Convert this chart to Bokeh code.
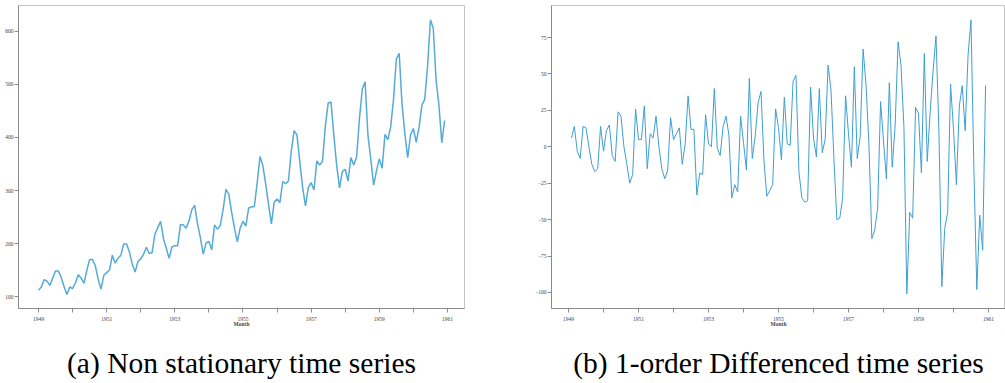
from bokeh.plotting import figure
from bokeh.models import FixedTicker, Range1d
from bokeh.core.properties import value
from bokeh.layouts import row, column
from bokeh.embed import file_html
from bokeh.resources import INLINE

# ---- data (AirPassengers, monthly 1949-1960) ----
years = list(range(1949, 1961))
passengers = [
    112, 118, 132, 129, 121, 135, 148, 148, 136, 119, 104, 118,
    115, 126, 141, 135, 125, 149, 170, 170, 158, 133, 114, 140,
    145, 150, 178, 163, 172, 178, 199, 199, 184, 162, 146, 166,
    171, 180, 193, 181, 183, 218, 230, 242, 209, 191, 172, 194,
    196, 196, 236, 235, 229, 243, 264, 272, 237, 211, 180, 201,
    204, 188, 235, 227, 234, 264, 302, 293, 259, 229, 203, 229,
    242, 233, 267, 269, 270, 315, 364, 347, 312, 274, 237, 278,
    284, 277, 317, 313, 318, 374, 413, 405, 355, 306, 271, 306,
    315, 301, 356, 348, 355, 422, 465, 467, 404, 347, 305, 336,
    340, 318, 362, 348, 363, 435, 491, 505, 404, 359, 310, 337,
    360, 342, 406, 396, 420, 472, 548, 559, 463, 407, 362, 405,
    417, 391, 419, 461, 472, 535, 622, 606, 508, 461, 390, 432,
]
# 1-order differenced series (Feb 1949 .. Dec 1960)
diff1 = [
    6, 14, -3, -8, 14, 13, 0, -12, -17, -15, 14,
    -3, 11, 15, -6, -10, 24, 21, 0, -12, -25, -19, 26,
    5, 5, 28, -15, 9, 6, 21, 0, -15, -22, -16, 20,
    5, 9, 13, -12, 2, 35, 12, 12, -33, -18, -19, 22,
    2, 0, 40, -1, -6, 14, 21, 8, -35, -26, -31, 21,
    3, -16, 47, -8, 7, 30, 38, -9, -34, -30, -26, 26,
    13, -9, 34, 2, 1, 45, 49, -17, -35, -38, -37, 41,
    6, -7, 40, -4, 5, 56, 39, -8, -50, -49, -35, 35,
    9, -14, 55, -8, 7, 67, 43, 2, -63, -57, -42, 31,
    4, -22, 44, -14, 15, 72, 56, 14, -101, -45, -49, 27,
    23, -18, 64, -10, 24, 52, 76, 11, -96, -56, -45, 43,
    12, -26, 28, 42, 11, 63, 87, -16, -98, -47, -71, 42,
]
x_major_years = [1949, 1951, 1953, 1955, 1957, 1959, 1961]
x_minor_years = [1950, 1952, 1954, 1956, 1958, 1960]
y_ticks_a = [100, 200, 300, 400, 500, 600]
y_ticks_b = [-100, -75, -50, -25, 0, 25, 50, 75]
captions = ["(a) Non stationary time series", "(b) 1-order Differenced time series"]
x_label = "Month"

months_x = [y + m / 12.0 for y in years for m in range(12)]
diff_x = months_x[1:]

TICK_FONT = "'Liberation Serif', serif"
CAP_FONT = "'Liberation Serif', serif"
PLOT_H = 334
FRAME_BOTTOM = 308      # page px
CAP_H = 383 - PLOT_H
CAPTION_BASELINE = 362  # intended page px (renders ~9px lower)


def make_fig(width, xr, yr, mb_left, mb_right, mb_top, yticks):
    p = figure(width=width, height=PLOT_H, x_range=Range1d(*xr), y_range=Range1d(*yr),
               output_backend="svg", toolbar_location=None,
               min_border_left=mb_left, min_border_right=mb_right,
               min_border_top=mb_top, min_border_bottom=PLOT_H - FRAME_BOTTOM,
               background_fill_color="white", border_fill_color="white")
    p.xgrid.visible = False
    p.ygrid.visible = False
    p.outline_line_color = "#c4c4c4"
    p.outline_line_width = 1
    for ax in (p.xaxis[0], p.yaxis[0]):
        ax.axis_line_color = "#8a8a8a"
        ax.major_tick_line_color = "#8a8a8a"
        ax.minor_tick_line_color = "#8a8a8a"
        ax.major_tick_in = 0
        ax.major_tick_out = 4
        ax.minor_tick_in = 0
        ax.major_label_text_font = TICK_FONT
        ax.major_label_text_font_size = "5.5px"
        ax.major_label_text_color = "#444444"
    p.xaxis.ticker = FixedTicker(ticks=x_major_years, minor_ticks=x_minor_years)
    p.xaxis.minor_tick_out = 4
    p.xaxis.major_label_standoff = 4
    p.xaxis.axis_label = x_label
    p.xaxis.axis_label_text_font = TICK_FONT
    p.xaxis.axis_label_text_font_size = "5.5px"
    p.xaxis.axis_label_text_font_style = "bold"
    p.xaxis.axis_label_text_color = "#444444"
    p.xaxis.axis_label_standoff = -3
    p.yaxis.ticker = FixedTicker(ticks=yticks, minor_ticks=[])
    p.yaxis.minor_tick_out = 0
    p.yaxis.major_label_standoff = 1
    return p


def make_caption(width, frame_left, frame_right, caption):
    c = figure(width=width, height=CAP_H, x_range=Range1d(0, width), y_range=Range1d(0, CAP_H),
               output_backend="svg", toolbar_location=None,
               x_axis_location=None, y_axis_location=None,
               min_border=0, min_border_left=0, min_border_right=0,
               min_border_top=0, min_border_bottom=0, outline_line_color=None,
               background_fill_color="white", border_fill_color="white")
    c.xgrid.visible = False
    c.ygrid.visible = False
    c.text(x=[(frame_left + frame_right) / 2.0], y=[CAP_H - (CAPTION_BASELINE - PLOT_H)],
           text=[caption], text_align="center", text_baseline="alphabetic",
           text_font=value(CAP_FONT), text_font_size="29.5px", text_color="black")
    return c


# left: frame x 18..464, y 4..308
p1 = make_fig(490, (1948.413, 1961.50), (77.4, 649.0), 18, 26, 4, y_ticks_a)
p1.line(months_x, passengers, line_color="#55abd8", line_width=1.5)
c1 = make_caption(490, 18, 464, captions[0])

# right: frame x 551..1005, y 5..308
p2 = make_fig(515, (1948.514, 1961.486), (-111.0, 97.0), 61, 0, 5, y_ticks_b)
p2.line(diff_x, diff1, line_color="#3d9fd2", line_width=1.0)
c2 = make_caption(515, 61, 515, captions[1])

layout = column(row(p1, p2), row(c1, c2))

open("out.html", "w").write(file_html(layout, INLINE))
